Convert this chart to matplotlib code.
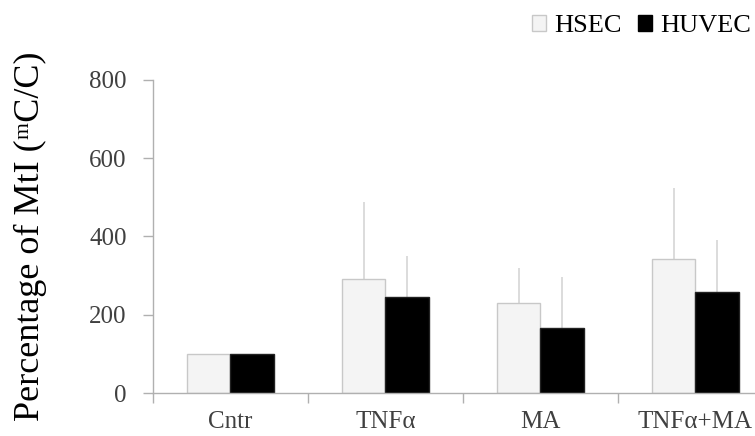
import matplotlib
matplotlib.use("Agg")
import matplotlib.pyplot as plt
from matplotlib.patches import Patch
import numpy as np

categories = ["Cntr", "TNFα", "MA", "TNFα+MA"]
hsec = [100, 291, 229, 343]
hsec_err = [0, 197, 91, 181]
huvec = [100, 246, 165, 259]
huvec_err = [0, 104, 131, 132]
yticks = [0, 200, 400, 600, 800]

plt.rcParams["font.family"] = ["Liberation Serif", "DejaVu Serif"]

fig = plt.figure(figsize=(7.55, 4.36), dpi=100)
ax = fig.add_axes([0.2026, 0.0986, 0.8212, 0.7186])

x = np.arange(len(categories))
w = 0.28
grey = "#c8c8c8"
ax.bar(x - w / 2, hsec, w, color="#f4f4f4", edgecolor=grey, linewidth=1.0, zorder=2)
ax.bar(x + w / 2, huvec, w, color="black", edgecolor="#222222", linewidth=1.0, zorder=2)

# upper-only error bars, no caps
ax.errorbar(x - w / 2, hsec, yerr=[np.zeros(len(hsec)), hsec_err], fmt="none",
            ecolor="#d6d6d6", elinewidth=1.2, capsize=0, zorder=1)
ax.errorbar(x + w / 2, huvec, yerr=[np.zeros(len(huvec)), huvec_err], fmt="none",
            ecolor="#d6d6d6", elinewidth=1.2, capsize=0, zorder=1)

ax.set_xlim(-0.5, 3.5)
ax.set_ylim(0, 800)
ax.set_yticks(yticks)
ax.set_yticklabels([str(t) for t in yticks])
ax.set_xticks(x)
ax.set_xticklabels(categories)
ax.set_xticks(np.arange(-0.5, 4.0, 1.0), minor=True)
ax.tick_params(axis="x", which="major", length=0, pad=13, labelsize=18, labelcolor="#404040")
ax.tick_params(axis="x", which="minor", length=7, width=1, color="#b0b0b0", direction="out")
ax.tick_params(axis="y", length=7, width=1, color="#b0b0b0", labelsize=18,
               labelcolor="#404040", pad=12)

for s in ["top", "right"]:
    ax.spines[s].set_visible(False)
for s in ["left", "bottom"]:
    ax.spines[s].set_color("#b0b0b0")
    ax.spines[s].set_linewidth(1.0)

ax.set_ylabel("Percentage of MtI (ᵐC/C)", fontsize=26)
ax.yaxis.set_label_coords(-0.171, 0.50)

handles = [Patch(facecolor="#f4f4f4", edgecolor=grey, label="HSEC"),
           Patch(facecolor="black", edgecolor="black", label="HUVEC")]
fig.legend(handles=handles, loc="upper right", bbox_to_anchor=(1.026, 1.02), ncol=2,
           frameon=False, fontsize=19, handlelength=0.55, handleheight=0.55,
           handletextpad=0.3, columnspacing=0.6)

fig.savefig("out.png", dpi=100)
